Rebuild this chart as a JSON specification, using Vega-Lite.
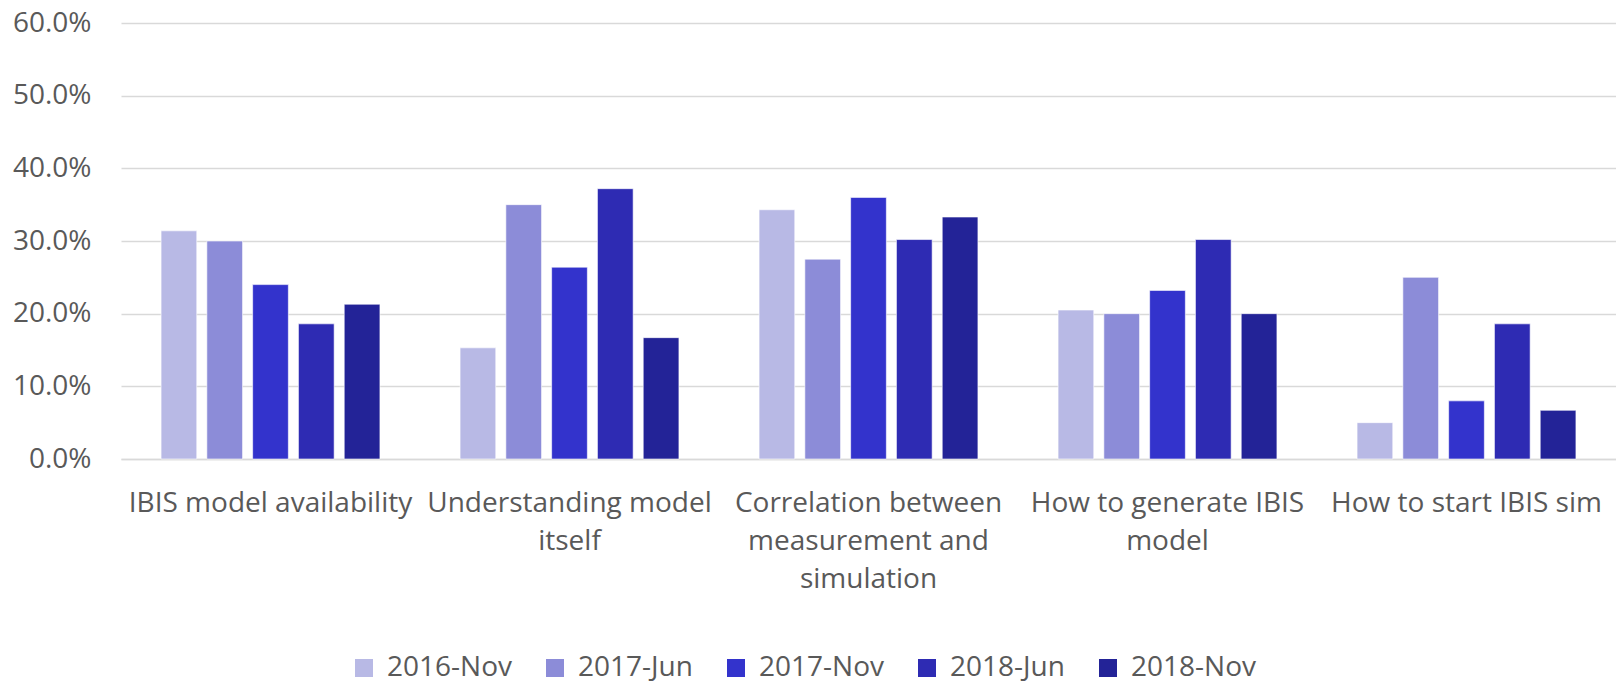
{
  "$schema": "https://vega.github.io/schema/vega-lite/v6.json",
  "autosize": {"type": "none"},
  "width": 1495,
  "height": 436,
  "padding": {"left": 121, "top": 23, "right": 0, "bottom": 224},
  "background": "white",
  "config": {
    "view": {"stroke": null},
    "font": "Open Sans"
  },
  "data": {
    "values": [
      {"topic": "IBIS model availability", "survey": "2016-Nov", "share": 0.314},
      {"topic": "IBIS model availability", "survey": "2017-Jun", "share": 0.300},
      {"topic": "IBIS model availability", "survey": "2017-Nov", "share": 0.240},
      {"topic": "IBIS model availability", "survey": "2018-Jun", "share": 0.186},
      {"topic": "IBIS model availability", "survey": "2018-Nov", "share": 0.213},
      {"topic": "Understanding model itself", "survey": "2016-Nov", "share": 0.153},
      {"topic": "Understanding model itself", "survey": "2017-Jun", "share": 0.350},
      {"topic": "Understanding model itself", "survey": "2017-Nov", "share": 0.264},
      {"topic": "Understanding model itself", "survey": "2018-Jun", "share": 0.372},
      {"topic": "Understanding model itself", "survey": "2018-Nov", "share": 0.167},
      {"topic": "Correlation between measurement and simulation", "survey": "2016-Nov", "share": 0.343},
      {"topic": "Correlation between measurement and simulation", "survey": "2017-Jun", "share": 0.275},
      {"topic": "Correlation between measurement and simulation", "survey": "2017-Nov", "share": 0.360},
      {"topic": "Correlation between measurement and simulation", "survey": "2018-Jun", "share": 0.302},
      {"topic": "Correlation between measurement and simulation", "survey": "2018-Nov", "share": 0.333},
      {"topic": "How to generate IBIS model", "survey": "2016-Nov", "share": 0.205},
      {"topic": "How to generate IBIS model", "survey": "2017-Jun", "share": 0.200},
      {"topic": "How to generate IBIS model", "survey": "2017-Nov", "share": 0.232},
      {"topic": "How to generate IBIS model", "survey": "2018-Jun", "share": 0.302},
      {"topic": "How to generate IBIS model", "survey": "2018-Nov", "share": 0.200},
      {"topic": "How to start IBIS sim", "survey": "2016-Nov", "share": 0.050},
      {"topic": "How to start IBIS sim", "survey": "2017-Jun", "share": 0.250},
      {"topic": "How to start IBIS sim", "survey": "2017-Nov", "share": 0.080},
      {"topic": "How to start IBIS sim", "survey": "2018-Jun", "share": 0.186},
      {"topic": "How to start IBIS sim", "survey": "2018-Nov", "share": 0.067}
    ]
  },
  "mark": {"type": "bar", "stroke": "white", "strokeWidth": 0.6},
  "encoding": {
    "x": {
      "field": "topic",
      "type": "nominal",
      "sort": null,
      "title": null,
      "scale": {"paddingInner": 0, "paddingOuter": 0},
      "axis": {
        "labelAngle": 0,
        "labelFont": "Open Sans",
        "labelFontSize": 28,
        "labelColor": "#595959",
        "labelLineHeight": 38,
        "labelPadding": 30,
        "labelLimit": 400,
        "labelOverlap": false,
        "ticks": false,
        "domainColor": "#D9D9D9",
        "domainWidth": 1.5,
        "labelExpr": "datum.value == 'Understanding model itself' ? ['Understanding model', 'itself'] : datum.value == 'Correlation between measurement and simulation' ? ['Correlation between', 'measurement and', 'simulation'] : datum.value == 'How to generate IBIS model' ? ['How to generate IBIS', 'model'] : datum.value"
      }
    },
    "xOffset": {
      "field": "survey",
      "type": "nominal",
      "sort": ["2016-Nov", "2017-Jun", "2017-Nov", "2018-Jun", "2018-Nov"],
      "scale": {"paddingInner": 0.22, "paddingOuter": 0.875}
    },
    "y": {
      "field": "share",
      "type": "quantitative",
      "title": null,
      "scale": {"domain": [0, 0.6], "nice": false},
      "axis": {
        "format": ".1%",
        "values": [0, 0.1, 0.2, 0.3, 0.4, 0.5, 0.6],
        "labelOverlap": false,
        "labelFont": "Open Sans",
        "labelFontSize": 28,
        "labelColor": "#595959",
        "labelPadding": 30,
        "ticks": false,
        "domain": false,
        "gridColor": "#D9D9D9",
        "gridWidth": 1.5
      }
    },
    "color": {
      "field": "survey",
      "type": "nominal",
      "sort": ["2016-Nov", "2017-Jun", "2017-Nov", "2018-Jun", "2018-Nov"],
      "scale": {
        "domain": ["2016-Nov", "2017-Jun", "2017-Nov", "2018-Jun", "2018-Nov"],
        "range": ["#B8B9E5", "#8C8CD8", "#3333CC", "#2E2BB3", "#232397"]
      },
      "legend": {
        "title": null,
        "orient": "none",
        "direction": "horizontal",
        "legendX": 229,
        "legendY": 631,
        "symbolType": "square",
        "symbolSize": 324,
        "symbolStrokeWidth": 0,
        "labelFont": "Open Sans",
        "labelFontSize": 28,
        "labelColor": "#595959",
        "labelOffset": 9,
        "columnPadding": 29,
        "labelLimit": 300
      }
    }
  }
}
